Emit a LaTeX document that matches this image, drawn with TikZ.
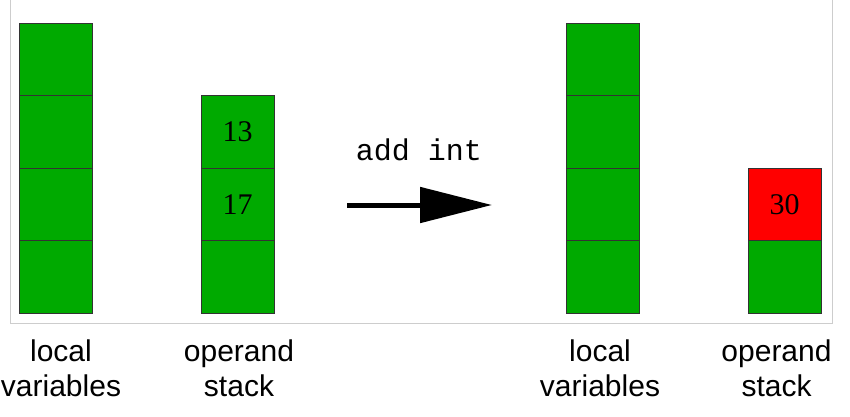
\documentclass[tikz,border=0pt]{standalone}
\usepackage{fontspec}
\setmainfont{Liberation Serif}
\setsansfont{Liberation Sans}
\setmonofont{Liberation Mono}
\usetikzlibrary{positioning}
\usetikzlibrary{arrows.meta}
\definecolor{slotgreen}{RGB}{0,170,0}
\definecolor{slotred}{RGB}{255,0,0}
\definecolor{framegray}{RGB}{205,205,205}
\tikzset{
 slot/.style={draw=black!80,fill=slotgreen,line width=1pt,minimum width=73pt,
  minimum height=72.5pt,inner sep=0pt,outer sep=0pt,font=\fontsize{30}{32}\selectfont},
 caption/.style={align=center,inner sep=0pt,anchor=north,
  font=\sffamily\fontsize{30}{35}\selectfont},
}

\begin{document}
\begin{tikzpicture}[x=1pt,y=-1pt]
 \useasboundingbox (0,0) rectangle (850,416);
 \draw[framegray,line width=1pt](10.5,0)--(10.5,323)--(832,323)--(832,0);
 % before
 \node[slot] (lv1) at (55.5,59.25) {};
 \node[slot,below=0pt of lv1] (lv2) {};
 \node[slot,below=0pt of lv2] (lv3) {};
 \node[slot,below=0pt of lv3] (lv4) {};
 \node[slot] (os1) at (237.5,131.75) {13};
 \node[slot,below=0pt of os1] (os2) {17};
 \node[slot,below=0pt of os2] (os3) {};
 % instruction
 \node[font=\ttfamily\fontsize{30}{32}\selectfont,anchor=base] (instr) at (419,160) {add int};
 \coordinate (arrA) at (347,205);
 \coordinate (arrB) at (492,205);
 \draw[line width=5pt,-{Triangle[length=72pt,width=35pt]}](arrA)--(arrB);
 % after
 \node[slot] (lvb1) at (602.5,59.25) {};
 \node[slot,below=0pt of lvb1] (lvb2) {};
 \node[slot,below=0pt of lvb2] (lvb3) {};
 \node[slot,below=0pt of lvb3] (lvb4) {};
 \node[slot,fill=slotred] (osb1) at (784.5,204.25) {30};
 \node[slot,below=0pt of osb1] (osb2) {};
 % captions
 \node[caption] (lvcap) at (61,340) {local\\variables};
 \node[caption] (oscap) at (239,340) {operand\\stack};
 \node[caption] (lvbcap) at (600,340) {local\\variables};
 \node[caption] (osbcap) at (776.5,340) {operand\\stack};
\end{tikzpicture}
\end{document}
